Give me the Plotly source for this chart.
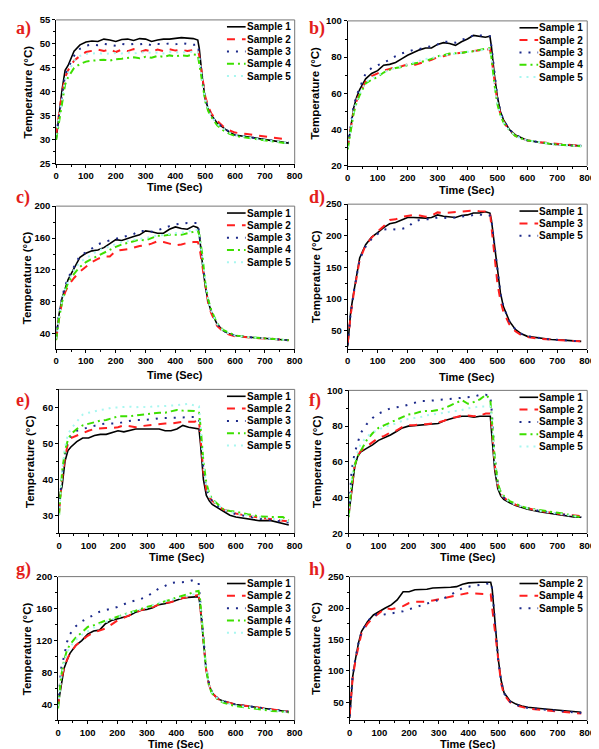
import plotly.graph_objects as go

# ---------------- data ----------------
T = [0, 10, 20, 30, 40, 60, 80, 100, 120, 140, 160, 180, 200, 220, 240, 260, 280, 300, 320, 340,
     360, 380, 400, 420, 440, 460, 475, 480, 490, 500, 510, 520, 540, 560, 580, 600, 640, 680, 720, 760, 780]

# panel a
a_s1 = [30, 36, 40.5, 44.5, 45.5, 48.5, 49.8, 50.4, 50.6, 50.5, 51, 50.8, 50.5, 50.9, 51, 50.7, 51.1, 51, 50.5, 50.8,
        51, 51, 51.1, 51.3, 51.2, 51.1, 50.8, 49, 43, 38.5, 36.5, 35.2, 33.5, 32.5, 31.6, 31, 30.6, 30.3, 29.8, 29.5, 29.3]
a_s2 = [31, 35.5, 40, 43, 44.5, 46.5, 47.5, 48.3, 48.5, 48.8, 48.5, 48.9, 48.3, 48.8, 48.5, 48.9, 48.3, 48.7, 48.4, 48.8,
        48.5, 48.9, 48.6, 48.8, 48.5, 48.8, 48.9, 47.5, 43.5, 39, 37, 35.5, 34, 32.8, 32, 31.5, 31.2, 30.8, 30.5, 30.2, 30]
a_s3 = [31, 35, 40, 43.5, 45, 47.5, 49, 49.6, 49.9, 49.7, 50, 49.8, 49.6, 50, 49.8, 50, 49.9, 50.1, 49.7, 50,
        49.9, 50.1, 49.9, 50.2, 50, 49.8, 49.9, 48, 43, 38.5, 36.5, 35, 33.5, 32.5, 31.7, 31, 30.6, 30.2, 29.8, 29.5, 29.4]
a_s4 = [30, 34, 38.5, 41.5, 43, 45, 45.8, 46.3, 46.5, 46.6, 46.7, 46.5, 46.8, 46.9, 47, 47.2, 47, 47.3, 47.1, 47.5,
        47.3, 47.6, 47.4, 47.6, 47.5, 47.8, 47.7, 46, 42, 38, 36, 34.8, 33, 32, 31.3, 30.8, 30.4, 30, 29.7, 29.4, 29.2]
a_s5 = [31, 35, 39.5, 42.5, 44, 46.5, 47.5, 47.9, 48, 48.1, 47.9, 48, 48.1, 48, 48.2, 48, 48.1, 48.3, 48.1, 48.2,
        48, 48.3, 48.2, 48.3, 48.2, 48.4, 48.3, 47, 42.5, 38.5, 36.5, 35, 33.3, 32.3, 31.5, 31, 30.5, 30.1, 29.8, 29.5, 29.3]

# panel b
b_s1 = [30, 42, 52, 58, 62, 68, 71, 72.5, 75.5, 76, 77, 79, 81, 82.5, 84, 85, 85, 87, 88, 87.5,
        86.5, 88.5, 90, 92, 91.5, 91, 91.5, 86, 70, 58, 50, 45.5, 40, 37, 35.5, 34, 33, 32, 31.5, 31, 31]
b_s2 = [31, 40, 50, 56, 60, 66.5, 69.5, 71, 72.5, 73.5, 74.5, 75, 76, 75.5, 76.5, 77.5, 78.5, 80, 80.5, 81.5,
        82, 82.5, 83, 83.5, 83.8, 84, 84.5, 80, 66, 55, 48.5, 44.5, 39.5, 36.5, 35, 34, 33, 32.5, 32, 31.5, 31]
b_s3 = [31, 43, 53, 59, 63, 71, 74, 75.5, 77, 78.5, 80.5, 82, 83, 84, 84.5, 85.5, 86, 87, 88.5, 88.5,
        88, 89.5, 90.5, 92, 92, 91.5, 91.5, 86, 70, 58, 50, 45.5, 40, 37, 35.5, 34, 33, 32, 31.5, 31, 31]
b_s4 = [29, 39, 49, 55, 59, 65.5, 67.5, 69, 71.5, 73, 74, 74.5, 75.5, 76.5, 77, 78, 79, 80.5, 81, 82,
        82, 82.3, 83, 83.2, 84, 84.5, 85, 80, 65, 54, 48, 44, 39.5, 36.5, 35, 34, 33, 32, 31.5, 31, 30.8]
b_s5 = [30, 40, 50, 56, 60, 66, 68.5, 70, 71.5, 73, 74, 75, 76, 77, 78, 79, 79.5, 80, 81, 81.5,
        82, 82.5, 83, 83.5, 84, 84.5, 84.5, 80, 65, 54.5, 48, 44, 39.5, 36.5, 35, 34, 33, 32, 31.5, 31, 30.8]

# panel c
c_s1 = [35, 65, 85, 98, 108, 122, 136, 141, 144, 145, 148, 153, 158, 157, 160, 162, 164, 169, 168, 166,
        166, 171, 174, 172, 171, 175, 173, 165, 130, 100, 80, 68, 52, 44, 40, 38, 36, 35, 34, 33, 32]
c_s2 = [33, 60, 80, 92, 100, 110, 118, 124, 130, 134, 137, 137, 144, 145, 146, 148, 150, 151, 153, 156,
        155, 153, 151, 152, 154, 155, 155, 150, 125, 98, 78, 66, 50, 43, 39, 37, 35.5, 34.5, 34, 33, 32]
c_s3 = [36, 66, 86, 100, 110, 125, 138, 142, 147, 152, 155, 157, 159, 161, 163, 165, 169, 169, 168, 170,
        172, 175, 177, 178, 179, 179, 179, 165, 135, 102, 82, 69, 52, 44, 40, 38, 36, 35, 34, 33, 32]
c_s4 = [32, 60, 80, 94, 104, 115, 124, 130, 134, 138, 142, 146, 149, 152, 154, 156, 158, 157, 160, 163,
        163, 164, 164, 164, 166, 168, 169, 164, 140, 105, 83, 70, 53, 45, 41, 38, 36, 35, 34, 33, 32]
c_s5 = [34, 62, 82, 96, 106, 120, 130, 135, 140, 144, 147, 150, 153, 155, 156, 158, 159, 160, 162, 163,
        164, 165, 166, 167, 168, 170, 170, 163, 135, 102, 81, 69, 52, 44, 40, 38, 36, 35, 34, 33, 32]

# panel d
d_s1 = [25, 80, 110, 140, 165, 186, 198, 205, 213, 219, 221, 225, 229, 229, 228, 228, 229, 233, 231, 230,
        229, 232, 233, 236, 236, 238, 236, 225, 185, 140, 110, 88, 65, 52, 45, 41, 38, 36, 35, 34, 33]
d_s3 = [30, 75, 108, 138, 162, 185, 197, 207, 215, 225, 226, 230, 232, 233, 232, 230, 232, 237, 236, 237,
        238, 239, 239, 240, 239, 238, 238, 215, 170, 125, 98, 80, 60, 49, 43, 40, 37, 36, 35, 33, 33]
d_s5 = [28, 78, 110, 140, 163, 183, 195, 203, 210, 211, 210, 211, 213, 222, 225, 226, 226, 229, 228, 228,
        229, 230, 232, 233, 234, 231, 232, 225, 185, 140, 110, 88, 65, 52, 45, 41, 38, 36, 35, 34, 33]

# panel e
e_s1 = [35, 38, 45, 48, 49, 50.5, 51.5, 51.5, 52.2, 52.5, 52.5, 53, 53.5, 53.2, 53.5, 54, 54, 54, 54.2, 54,
        53.5, 53.5, 54, 55, 54.5, 54.2, 54, 50, 40, 35.5, 34, 33, 32, 31, 30, 29.5, 29, 28.5, 28.5, 27.8, 27.3]
e_s2 = [31, 40, 46, 50, 51.5, 52.2, 52.8, 53.5, 54, 54.2, 54.3, 54.3, 54.5, 55, 54.8, 54.5, 54.8, 55, 55.2, 55.5,
        55.5, 55.5, 55.8, 56, 56, 56, 56.5, 52, 42, 37, 35, 34, 32.5, 31.5, 31, 30.5, 29.8, 29.3, 28.8, 28.5, 28.3]
e_s3 = [32, 41, 47, 51, 52, 53.5, 54, 54.5, 55, 55.3, 55.5, 55.5, 55.5, 56, 56.3, 56.5, 56.5, 56.5, 56.7, 57,
        57, 57, 57, 57.2, 57.3, 57.3, 57, 52.5, 43, 37.5, 35, 34, 32.5, 31.5, 30.8, 30.3, 29.7, 29, 28.7, 28.2, 28]
e_s4 = [30, 42, 48, 51, 52.5, 54, 55, 55.5, 56, 56.3, 56.5, 57, 57.5, 57.5, 57.5, 57.8, 58, 58, 58.3, 58.5,
        58.5, 59, 59.3, 59.1, 59, 59, 58.5, 55, 45, 39, 36, 34.5, 33, 31.5, 31.2, 31, 30.3, 29.7, 29.5, 29.5, 28.5]
e_s5 = [30, 42, 49, 52.5, 54, 56, 58, 58.5, 59, 59.3, 59.5, 60, 60, 60.2, 60.2, 60, 60.2, 60, 60.3, 60.3,
        60.5, 60.5, 60.6, 60.8, 61, 60.5, 60.3, 55, 44, 38, 35.5, 34.2, 32.8, 31.5, 31, 30.5, 30, 29.4, 29, 28.7, 28.3]

# panel f
f_s1 = [30, 45, 57, 63, 65.5, 67.5, 69.5, 72, 73.5, 75, 77, 79, 80, 80.3, 80.5, 81, 81, 81.5, 83, 84,
        85, 85.5, 85.5, 85, 85.5, 85.5, 85.5, 75, 55, 45, 41, 39, 37, 35.5, 34.5, 33.5, 32, 31, 30, 29, 29]
f_s2 = [31, 46, 58, 63.5, 66, 68.5, 71, 73.5, 74.5, 76.5, 77.5, 79.5, 80.5, 80.5, 81, 81, 81.5, 82, 83, 84.5,
        85, 86, 86, 85.5, 86, 87, 87, 80, 58, 47, 42, 40, 37.5, 36, 35, 34, 32.5, 31.5, 30.5, 30, 29.5]
f_s3 = [32, 55, 65, 70, 76, 81, 84.5, 87, 88.5, 90, 90.5, 91, 92, 93, 94, 94, 94.3, 94.5, 95, 95.5,
        95.5, 95.8, 96, 96.5, 97.5, 97.5, 97, 88, 62, 48, 43, 40, 37.5, 36, 35, 34, 32.5, 31.5, 30.5, 29.5, 29]
f_s4 = [29, 48, 58, 63, 66, 72, 76, 79, 80.5, 82, 83.5, 85, 86.5, 87, 88, 88.5, 88.5, 89, 90, 91.5,
        93, 94.5, 92.5, 93.5, 95, 97.5, 95, 85, 62, 48, 43, 41, 38, 36.5, 35, 34, 33, 32, 31, 29.5, 29]
f_s5 = [30, 50, 61, 66, 70, 74, 76.5, 78, 79.5, 80.5, 81.5, 83, 84, 84.5, 85, 86, 86.5, 87, 87.5, 88,
        88.5, 89, 90, 90.5, 91, 91, 91, 84, 60, 47, 42, 40, 37.5, 36, 35, 34, 32.5, 31.5, 30.5, 29.5, 29]

# panel g
g_s1 = [40, 65, 85, 95, 104, 114, 120, 128, 132, 133, 141, 145, 147, 149, 151, 155, 158, 159, 161, 165,
        166, 168, 171, 173, 174, 175, 175, 165, 120, 85, 65, 55, 47, 44, 42, 40, 38, 36, 34, 32, 31]
g_s2 = [38, 70, 85, 96, 104, 114, 120, 126, 130, 133, 135, 140, 145, 148, 151, 155, 158, 160, 162, 165,
        167, 168, 170, 173, 175, 176, 177, 165, 120, 85, 65, 55, 47, 44, 42, 40, 38, 36, 34, 32, 31]
g_s3 = [40, 85, 100, 118, 128, 138, 144, 148, 152, 156, 158, 160, 162, 165, 168, 170, 172, 175, 180, 185,
        188, 192, 193, 193, 194, 196, 192, 170, 125, 88, 67, 56, 48, 44, 42, 40, 38, 36, 34, 32, 31]
g_s4 = [35, 75, 95, 108, 115, 124, 130, 137, 139, 142, 145, 147, 150, 153, 155, 157, 160, 162, 164, 166,
        169, 171, 174, 176, 178, 181, 182, 172, 125, 86, 64, 54, 46, 42, 40, 38, 36, 34, 32, 31, 30]
g_s5 = [38, 72, 92, 104, 112, 121, 127, 132, 136, 140, 143, 146, 150, 152, 154, 157, 159, 161, 164, 167,
        169, 171, 172, 174, 176, 178, 178, 168, 122, 86, 65, 55, 47, 43, 41, 39, 37, 35, 33, 31, 30]

# panel h
h_s2 = [25, 90, 120, 145, 163, 178, 189, 195, 200, 205, 213, 226, 226, 229, 229, 230, 232, 232, 232, 233,
        234, 238, 240, 241, 241, 241, 241, 230, 170, 120, 85, 65, 52, 47, 44, 42, 40, 38, 36, 34, 34]
h_s4 = [30, 88, 118, 142, 160, 175, 185, 192, 200, 198, 200, 203, 208, 210, 210, 210, 212, 214, 216, 218,
        220, 222, 224, 223, 223, 222, 222, 200, 160, 110, 80, 62, 50, 45, 42, 40, 38, 36, 34, 33, 32]
h_s5 = [28, 92, 122, 145, 162, 178, 190, 188, 190, 191, 193, 195, 198, 200, 203, 207, 210, 212, 216, 221,
        226, 232, 234, 236, 237, 238, 241, 230, 168, 118, 84, 64, 51, 46, 43, 41, 39, 37, 35, 34, 33]

NAMES5 = ["Sample 1", "Sample 2", "Sample 3", "Sample 4", "Sample 5"]
NAMES_D = ["Sample 1", "Sample 3", "Sample 5"]
NAMES_H = ["Sample 2", "Sample 4", "Sample 5"]
X_TITLE = "Time (Sec)"
Y_TITLE = "Temperature (°C)"

PANELS = [
    ("a)", NAMES5, [a_s1, a_s2, a_s3, a_s4, a_s5], [25, 55], 5),
    ("b)", NAMES5, [b_s1, b_s2, b_s3, b_s4, b_s5], [20, 100], 20),
    ("c)", NAMES5, [c_s1, c_s2, c_s3, c_s4, c_s5], [21, 200], 40),
    ("d)", NAMES_D, [d_s1, d_s3, d_s5], [21, 250], 50),
    ("e)", NAMES5, [e_s1, e_s2, e_s3, e_s4, e_s5], [25, 65], 10),
    ("f)", NAMES5, [f_s1, f_s2, f_s3, f_s4, f_s5], [20, 100], 20),
    ("g)", NAMES5, [g_s1, g_s2, g_s3, g_s4, g_s5], [20, 200], 40),
    ("h)", NAMES_H, [h_s2, h_s4, h_s5], [21, 250], 50),
]

# ---------------- layout / style ----------------
W, H = 599, 749
# plot-area pixel boxes (x0, x1, ytop, ybottom)
BOX = [(46, 289, 6, 152), (343, 587, 7, 154), (46, 289, 195, 340), (343, 587, 193, 340),
       (49, 289, 381, 527), (344, 587, 382, 527), (48, 289, 571, 717), (345, 587, 571, 717)]
LETTER_POS = [(3, 2), (302, 2), (3, 174), (302, 174), (3, 380), (302, 380), (3, 551), (302, 551)]
YTITLE_X = [17, 310, 16, 310, 20, 312, 16, 310]
XTITLE_Y = [176, 179, 366, 368, 551, 551, 741, 741]

STY = [
    dict(color="black", dash="solid", width=1.6),
    dict(color="#ff1f1f", dash="8px,7px", width=2),
    dict(color="#1c2a8a", dash="2px,7px", width=2),
    dict(color="#3ddf00", dash="7px,4px,2px,4px", width=2),
    dict(color="#a8f7f0", dash="2px,5px", width=2),
]

FONT = "Liberation Sans, Arial, sans-serif"
fig = go.Figure()
layout = dict(width=W, height=H, margin=dict(l=0, r=0, t=0, b=0),
              paper_bgcolor="white", plot_bgcolor="white", showlegend=False)
shapes, annotations = [], []
tfont = dict(family=FONT, size=11, color="black", weight="bold")

for i, (letter, names, series, yr, ydt) in enumerate(PANELS):
    n = i + 1
    sfx = "" if n == 1 else str(n)
    x0, x1, yt, yb = BOX[i]
    for j, (nm, ys) in enumerate(zip(names, series)):
        fig.add_trace(go.Scatter(x=T, y=ys, mode="lines", name=nm, line=STY[j],
                                 xaxis=f"x{sfx}", yaxis=f"y{sfx}"))
    axcommon = dict(showline=True, linecolor="black", linewidth=1, ticks="outside", ticklen=3,
                    tickwidth=1, tickcolor="black", showgrid=False, zeroline=False,
                    tickfont=dict(family=FONT, size=9.5, color="black", weight="bold"))
    layout[f"xaxis{sfx}"] = dict(axcommon, domain=[x0 / W, x1 / W], range=[0, 800], dtick=100, tick0=0,
                                 anchor=f"y{sfx}",
                                 minor=dict(ticks="outside", ticklen=2, dtick=50, tickcolor="black"))
    layout[f"yaxis{sfx}"] = dict(axcommon, domain=[1 - yb / H, 1 - yt / H], range=yr, dtick=ydt, tick0=0,
                                 anchor=f"x{sfx}",
                                 minor=dict(ticks="outside", ticklen=2, dtick=ydt / 2, tickcolor="black"))
    # top / right frame
    for (ax0, ay0, ax1, ay1) in [(0, 1, 1, 1), (1, 0, 1, 1)]:
        shapes.append(dict(type="line", xref=f"x{sfx} domain", yref=f"y{sfx} domain",
                           x0=ax0, y0=ay0, x1=ax1, y1=ay1, line=dict(color="#777", width=1)))
    # axis titles
    annotations.append(dict(text=X_TITLE, xref="paper", yref="paper", x=(x0 + x1) / 2 / W,
                            y=1 - XTITLE_Y[i] / H, xanchor="center", yanchor="middle",
                            showarrow=False, font=tfont))
    annotations.append(dict(text=Y_TITLE, xref="paper", yref="paper", x=YTITLE_X[i] / W,
                            y=1 - (yt + yb) / 2 / H, xanchor="center", yanchor="middle",
                            textangle=-90, showarrow=False, font=dict(tfont, size=11.5)))
    # legend (compact, drawn inside the plot area)
    for j, nm in enumerate(names):
        ly = yt + 7 + 12.5 * j
        shapes.append(dict(type="line", xref="paper", yref="paper",
                           x0=(x1 - 69) / W, x1=(x1 - 50) / W, y0=1 - ly / H, y1=1 - ly / H,
                           line=STY[j]))
        annotations.append(dict(text=nm, xref="paper", yref="paper", x=(x1 - 2) / W,
                                y=1 - ly / H, xanchor="right", yanchor="middle", showarrow=False,
                                font=dict(family=FONT, size=10, color="black", weight="bold")))
    # panel letter
    lx, ly = LETTER_POS[i]
    annotations.append(dict(text=letter, xref="paper", yref="paper", x=lx / W, y=1 - ly / H,
                            xanchor="left", yanchor="top", showarrow=False,
                            font=dict(family="Liberation Serif, Times New Roman, serif", size=18,
                                      color="#e3201b", weight="bold")))

layout["shapes"] = shapes
layout["annotations"] = annotations
fig.update_layout(**layout)
fig.write_html("out.html")
